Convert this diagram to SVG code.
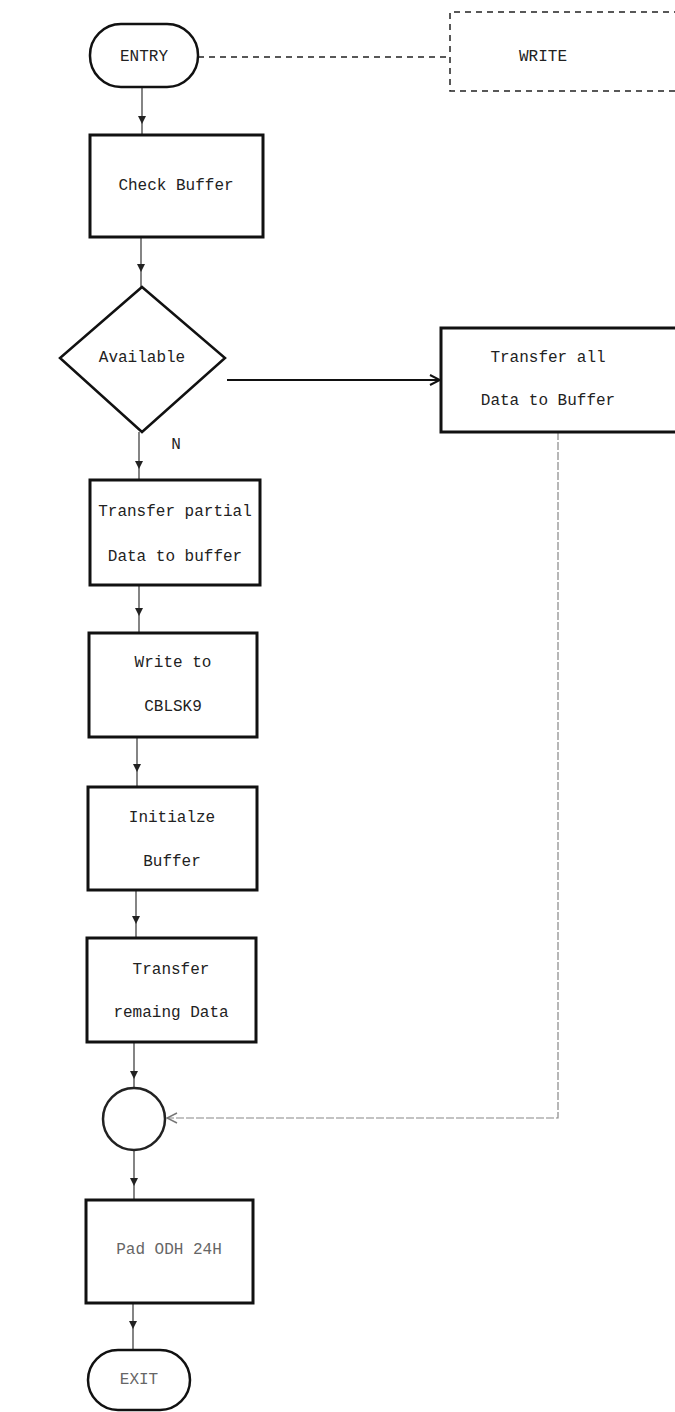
<svg xmlns="http://www.w3.org/2000/svg" width="675" height="1412" viewBox="0 0 675 1412">
<defs>
<style>
.box{fill:#fff;stroke:#111;stroke-width:3}
.term{fill:#fff;stroke:#111;stroke-width:2.5}
.dec{fill:#fff;stroke:#111;stroke-width:2.5}
.t{font-family:"Liberation Mono","DejaVu Sans Mono",monospace;font-size:16px;fill:#222;text-anchor:middle;dominant-baseline:central}
.lt{fill:#666}
.flow{fill:none;stroke:#333;stroke-width:1.2}
.faint{fill:none;stroke:#888;stroke-width:1.2;stroke-dasharray:8 2}
.dash{fill:none;stroke:#222;stroke-width:1.5;stroke-dasharray:6 5}
</style>
<marker id="down" markerWidth="10" markerHeight="10" refX="5" refY="5" orient="auto" markerUnits="userSpaceOnUse">
<path d="M1,1 L9,5 L1,9 Z" fill="#222"/>
</marker>
<marker id="arr" markerWidth="12" markerHeight="12" refX="11" refY="6" orient="auto" markerUnits="userSpaceOnUse">
<path d="M1,1 L11,6 L1,11" fill="none" stroke="#111" stroke-width="2"/>
</marker>
<marker id="arrl" markerWidth="12" markerHeight="12" refX="11" refY="6" orient="auto" markerUnits="userSpaceOnUse">
<path d="M1,1 L11,6 L1,11" fill="none" stroke="#777" stroke-width="1.5"/>
</marker>
</defs>
<rect width="675" height="1412" fill="#fff"/>

<g id="connectors">
<path class="dash" d="M198,57 L450,57"/>
<path class="flow" d="M142,87 L142,120 L142,135" marker-mid="url(#down)"/>
<path class="flow" d="M141,237 L141,268 L141,287" marker-mid="url(#down)"/>
<path class="flow" d="M139,432 L139,465 L139,480" marker-mid="url(#down)"/>
<path class="flow" d="M139,585 L139,612 L139,633" marker-mid="url(#down)"/>
<path class="flow" d="M137,737 L137,768 L137,787" marker-mid="url(#down)"/>
<path class="flow" d="M136,890 L136,920 L136,938" marker-mid="url(#down)"/>
<path class="flow" d="M134,1042 L134,1075 L134,1088" marker-mid="url(#down)"/>
<path class="flow" d="M134,1150 L134,1182 L134,1200" marker-mid="url(#down)"/>
<path class="flow" d="M133,1303 L133,1325 L133,1350" marker-mid="url(#down)"/>
<path d="M227,380 L440,380" fill="none" stroke="#111" stroke-width="2" marker-end="url(#arr)"/>
<path class="faint" d="M558,432 L558,1118 L167,1118" marker-end="url(#arrl)"/>
<text class="t" x="176" y="445">N</text>
</g>

<g id="entry">
<rect class="term" x="90" y="24" width="108" height="63" rx="31"/>
<text class="t" x="144" y="57">ENTRY</text>
</g>
<g id="write">
<path class="dash" d="M680,12 L450,12 L450,91 L680,91"/>
<text class="t" x="543" y="57">WRITE</text>
</g>
<g id="check-buffer">
<rect class="box" x="90" y="135" width="173" height="102"/>
<text class="t" x="176" y="186">Check Buffer</text>
</g>
<g id="available">
<path class="dec" d="M142,287 L225,358 L142,432 L60,358 Z"/>
<text class="t" x="142" y="358">Available</text>
</g>
<g id="transfer-all">
<path class="box" d="M680,328 L441,328 L441,432 L680,432"/>
<text class="t" x="548" y="358">Transfer all</text>
<text class="t" x="548" y="401">Data to Buffer</text>
</g>
<g id="transfer-partial">
<rect class="box" x="90" y="480" width="170" height="105"/>
<text class="t" x="175" y="512">Transfer partial</text>
<text class="t" x="175" y="557">Data to buffer</text>
</g>
<g id="write-to">
<rect class="box" x="89" y="633" width="168" height="104"/>
<text class="t" x="173" y="663">Write to</text>
<text class="t" x="173" y="707">CBLSK9</text>
</g>
<g id="initialze">
<rect class="box" x="88" y="787" width="169" height="103"/>
<text class="t" x="172" y="818">Initialze</text>
<text class="t" x="172" y="862">Buffer</text>
</g>
<g id="transfer-remaing">
<rect class="box" x="87" y="938" width="169" height="104"/>
<text class="t" x="171" y="970">Transfer</text>
<text class="t" x="171" y="1013">remaing Data</text>
</g>
<g id="join">
<circle cx="134" cy="1119" r="31" fill="#fff" stroke="#222" stroke-width="2.5"/>
</g>
<g id="pad">
<rect class="box" x="86" y="1200" width="167" height="103"/>
<text class="t lt" x="169" y="1250">Pad ODH 24H</text>
</g>
<g id="exit">
<rect class="term" x="88" y="1350" width="102" height="60" rx="30"/>
<text class="t lt" x="139" y="1380">EXIT</text>
</g>
</svg>
